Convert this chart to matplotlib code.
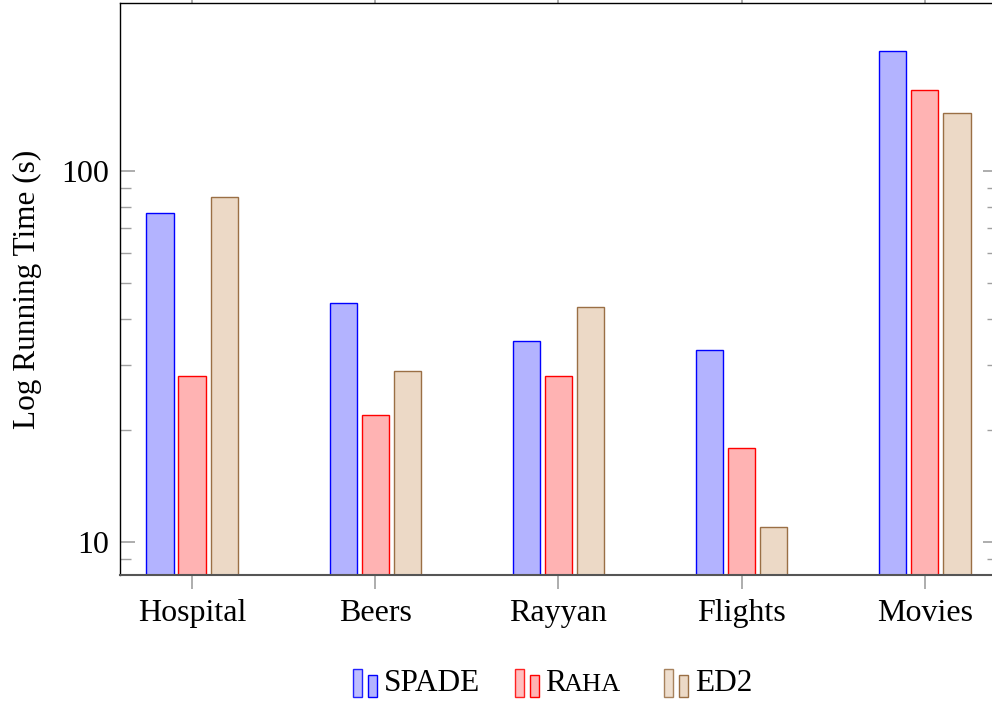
import numpy as np
import matplotlib
matplotlib.use("Agg")
import matplotlib.pyplot as plt
from matplotlib.patches import Patch, Rectangle
from matplotlib.legend_handler import HandlerBase
from matplotlib.ticker import NullFormatter, FixedLocator

# ===== DATA =====
datasets = ["Hospital", "Beers", "Rayyan", "Flights", "Movies"]
spade = [77, 44, 34.8, 32.9, 211]
raha = [28, 22, 28, 17.9, 165]
ed2 = [85, 28.9, 43, 11, 143]

# Visuals
plt.rcParams["font.family"] = ["Liberation Serif", "DejaVu Serif"]
FONT = 22.5
TICK_FONT = 23
series = [
    ("SPADE", spade, "#b3b3ff", "#0000ff"),
    ("R", raha, "#ffb3b3", "#ff0000"),
    ("ED2", ed2, "#ecd9c6", "#9a6f45"),
]
BAR_W = 0.148
OFFSET = 0.175
TICK_GRAY = "#a0a0a0"


class TwoBarHandler(HandlerBase):
    """pgfplots-style ybar legend image: two small bars."""
    def create_artists(self, legend, orig, xd, yd, w, h, fontsize, trans):
        fc = orig.get_facecolor()
        ec = orig.get_edgecolor()
        bw = w * 0.36
        y0 = yd - h * 0.3
        r1 = Rectangle((xd, y0), bw, h * 1.3, facecolor=fc,
                       edgecolor=ec, lw=1.0, alpha=0.85, transform=trans)
        r2 = Rectangle((xd + w * 0.62, y0), bw, h * 1.0, facecolor=fc,
                       edgecolor=ec, lw=1.0, transform=trans)
        return [r1, r2]


fig = plt.figure(figsize=(9.92, 7.02), dpi=100)
ax = fig.add_axes([120 / 992, 127 / 702, 878 / 992, 572 / 702])

x = np.arange(len(datasets))
handles = []
for i, (name, vals, fc, ec) in enumerate(series):
    ax.bar(x + (i - 1) * OFFSET, vals, width=BAR_W, bottom=0.001,
           color=fc, edgecolor=ec, linewidth=1.0, zorder=2)
    handles.append(Patch(facecolor=fc, edgecolor=ec, label=name))

ax.set_yscale("log")
ax.set_ylim(8.15, 283.6)
ax.set_xlim(-0.393, 4.399)

ax.set_xticks(x)
ax.set_xticklabels(datasets, fontsize=TICK_FONT)
ax.yaxis.set_major_locator(FixedLocator([10, 100]))
ax.set_yticklabels(["10", "100"], fontsize=TICK_FONT)
ax.yaxis.set_minor_locator(FixedLocator([9, 20, 30, 40, 50, 60, 70, 80, 90]))
ax.yaxis.set_minor_formatter(NullFormatter())

ax.tick_params(axis="x", direction="out", length=10, width=1.2, color=TICK_GRAY,
               top=True, pad=7)
ax.tick_params(axis="y", which="major", direction="in", length=11, width=1.2,
               color=TICK_GRAY, right=True, pad=8)
ax.tick_params(axis="y", which="minor", direction="in", length=8, width=1.0,
               color=TICK_GRAY, right=True)

ax.set_ylabel("Log Running Time (s)", fontsize=FONT, labelpad=14)

for s in ("left", "top", "right"):
    ax.spines[s].set_color("black")
    ax.spines[s].set_linewidth(1.0)
ax.spines["bottom"].set_color("#555555")
ax.spines["bottom"].set_linewidth(1.5)

leg = fig.legend(handles=handles, labels=["SPADE", "R" + "\u2002" * 4, "ED2"],
                 loc="lower center", bbox_to_anchor=(0.557, -0.034), ncol=3,
                 frameon=False, fontsize=FONT, handlelength=0.8, handleheight=0.7,
                 handletextpad=0.2, columnspacing=1.1,
                 handler_map={Patch: TwoBarHandler()})

# small caps for the Raha label
fig.canvas.draw()
ax.annotate("AHA", xy=(0.0, 0.0), xycoords=leg.get_texts()[1],
            xytext=(12.5, 1.0), textcoords="offset points",
            fontsize=19, va="bottom", ha="left", annotation_clip=False)

fig.savefig("out.png", dpi=100)
